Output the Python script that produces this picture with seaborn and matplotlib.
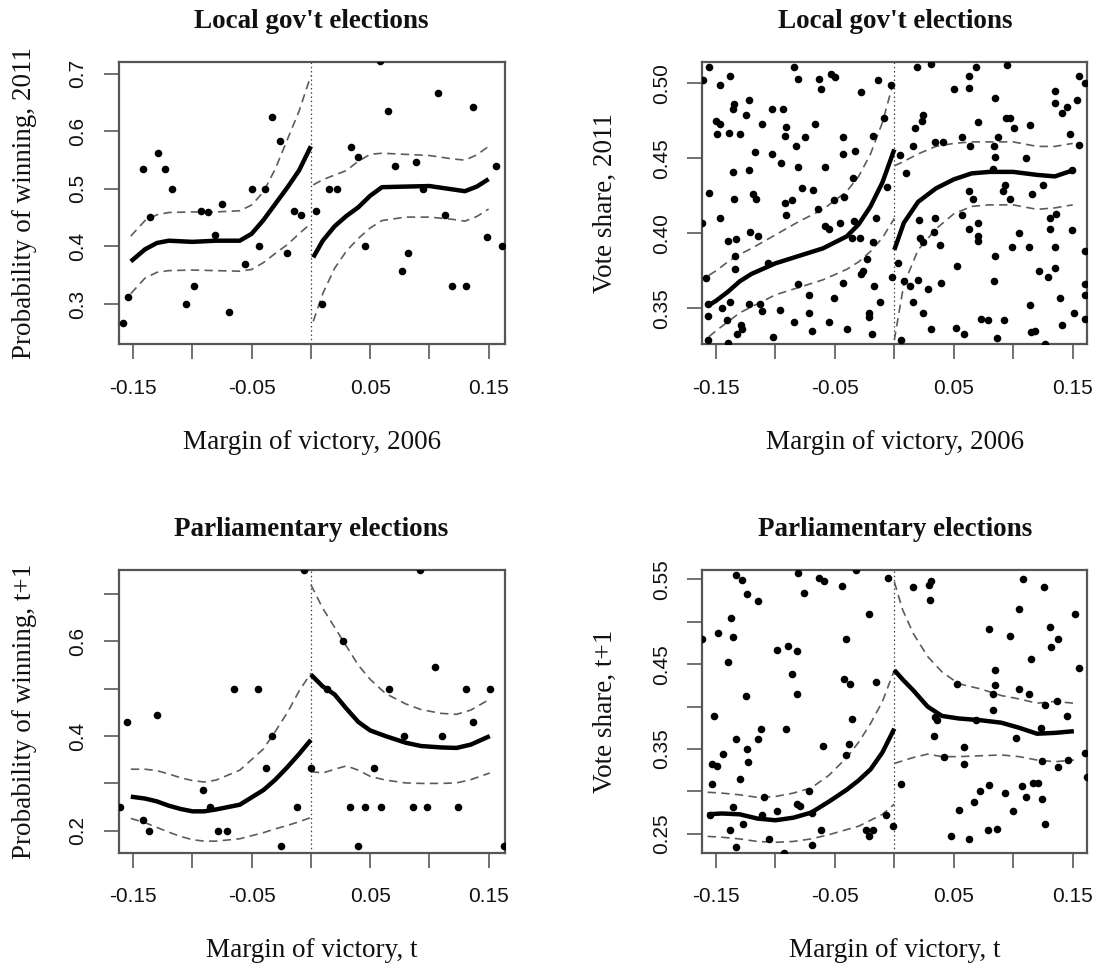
import matplotlib
matplotlib.use("Agg")
import matplotlib.pyplot as plt
import numpy as np
import pandas as pd
import seaborn as sns

sns.set_theme(style="white")
plt.rcParams['font.family'] = ['Liberation Serif', 'DejaVu Serif']
plt.rcParams['axes.unicode_minus'] = False

cutoff = 0.0

# ---------------- Panel 1: Local gov't elections, probability of winning ----------------
lg_prob_x = [-0.159, -0.154, -0.142, -0.136, -0.129, -0.123, -0.117, -0.105, -0.099, -0.093,
             -0.087, -0.081, -0.075, -0.069, -0.056, -0.050, -0.044, -0.039, -0.033, -0.026,
             -0.020, -0.014, -0.008, 0.004, 0.009, 0.015, 0.022, 0.034, 0.040, 0.046,
             0.058, 0.065, 0.071, 0.077, 0.082, 0.089, 0.095, 0.107, 0.113, 0.119,
             0.131, 0.137, 0.149, 0.156, 0.161]
lg_prob_y = [0.267, 0.313, 0.534, 0.451, 0.563, 0.534, 0.500, 0.300, 0.332, 0.462,
             0.459, 0.420, 0.473, 0.286, 0.369, 0.500, 0.400, 0.500, 0.625, 0.583,
             0.388, 0.462, 0.455, 0.462, 0.300, 0.500, 0.500, 0.572, 0.556, 0.400,
             0.722, 0.636, 0.539, 0.358, 0.388, 0.546, 0.500, 0.666, 0.455, 0.332,
             0.332, 0.643, 0.416, 0.539, 0.400]
lg_prob_left_x = [-0.152, -0.14, -0.13, -0.12, -0.1, -0.08, -0.06, -0.05, -0.04, -0.03, -0.02, -0.01, 0.0]
lg_prob_left_fit = [0.374, 0.395, 0.406, 0.410, 0.408, 0.410, 0.410, 0.422, 0.446, 0.474, 0.502, 0.532, 0.574]
lg_prob_left_hi = [0.418, 0.445, 0.455, 0.459, 0.460, 0.460, 0.462, 0.472, 0.495, 0.535, 0.585, 0.635, 0.697]
lg_prob_left_lo = [0.318, 0.345, 0.355, 0.358, 0.359, 0.358, 0.357, 0.360, 0.372, 0.388, 0.403, 0.422, 0.440]
lg_prob_right_x = [0.002, 0.01, 0.02, 0.03, 0.04, 0.05, 0.06, 0.08, 0.1, 0.12, 0.13, 0.14, 0.15]
lg_prob_right_fit = [0.381, 0.410, 0.435, 0.453, 0.468, 0.488, 0.503, 0.504, 0.505, 0.499, 0.496, 0.504, 0.517]
lg_prob_right_hi = [0.507, 0.516, 0.524, 0.532, 0.548, 0.560, 0.562, 0.560, 0.558, 0.552, 0.550, 0.559, 0.574]
lg_prob_right_lo = [0.270, 0.318, 0.362, 0.392, 0.414, 0.432, 0.445, 0.451, 0.451, 0.447, 0.444, 0.452, 0.465]

# ---------------- Panel 2: Local gov't elections, vote share ----------------
lg_share_left_x = [-0.156, -0.161, -0.147, -0.138, -0.084, -0.081, -0.063, -0.062, -0.053, -0.050,
                   -0.028, -0.122, -0.135, -0.136, -0.125, -0.103, -0.094, -0.150, -0.147, -0.149,
                   -0.139, -0.130, -0.111, -0.091, -0.092, -0.075, -0.067, -0.043, -0.018, -0.117,
                   -0.103, -0.083, -0.095, -0.081, -0.058, -0.043, -0.033, -0.035, -0.136, -0.122,
                   -0.156, -0.135, -0.119, -0.116, -0.078, -0.068, -0.086, -0.092, -0.091, -0.064,
                   -0.051, -0.042, -0.046, -0.058, -0.055, -0.034, -0.015, -0.162, -0.147, -0.121,
                   -0.115, -0.140, -0.133, -0.134, -0.134, -0.158, -0.106, -0.081, -0.072, -0.051,
                   -0.043, -0.036, -0.029, -0.023, -0.026, -0.028, -0.017, -0.157, -0.145, -0.138,
                   -0.157, -0.141, -0.122, -0.113, -0.111, -0.096, -0.072, -0.021, -0.021, -0.129,
                   -0.128, -0.132, -0.084, -0.055, -0.069, -0.040, -0.019, -0.157, -0.140, -0.102,
                   -0.018, -0.012, -0.014, -0.003, -0.009, -0.006]
lg_share_left_y = [0.511, 0.502, 0.499, 0.505, 0.511, 0.503, 0.503, 0.496, 0.506, 0.504,
                   0.494, 0.489, 0.486, 0.483, 0.479, 0.483, 0.483, 0.475, 0.473, 0.466,
                   0.467, 0.466, 0.473, 0.471, 0.465, 0.464, 0.473, 0.464, 0.465, 0.454,
                   0.453, 0.458, 0.447, 0.444, 0.444, 0.453, 0.455, 0.437, 0.441, 0.442,
                   0.427, 0.423, 0.426, 0.423, 0.430, 0.429, 0.422, 0.420, 0.412, 0.416,
                   0.422, 0.424, 0.407, 0.405, 0.403, 0.408, 0.410, 0.407, 0.410, 0.401,
                   0.398, 0.395, 0.396, 0.385, 0.376, 0.370, 0.380, 0.366, 0.359, 0.357,
                   0.367, 0.397, 0.397, 0.383, 0.375, 0.373, 0.365, 0.353, 0.350, 0.354,
                   0.345, 0.342, 0.353, 0.353, 0.348, 0.349, 0.347, 0.347, 0.344, 0.339,
                   0.336, 0.333, 0.341, 0.341, 0.335, 0.336, 0.333, 0.329, 0.327, 0.331,
                   0.394, 0.354, 0.502, 0.499, 0.477, 0.431]
lg_share_right_x = [0.019, 0.031, 0.069, 0.095, 0.063, 0.063, 0.050, 0.085, 0.135, 0.135,
                    0.141, 0.024, 0.023, 0.017, 0.070, 0.094, 0.097, 0.101, 0.114, 0.057,
                    0.064, 0.087, 0.084, 0.085, 0.041, 0.034, 0.016, 0.005, 0.010, 0.111,
                    0.083, 0.093, 0.091, 0.063, 0.066, 0.097, 0.116, 0.125, 0.057, 0.070,
                    0.063, 0.070, 0.070, 0.021, 0.034, 0.033, 0.022, 0.024, 0.038, 0.105,
                    0.099, 0.113, 0.131, 0.136, 0.131, 0.135, 0.085, 0.053, 0.003, -0.002,
                    0.008, 0.013, 0.020, 0.028, 0.039, 0.084, 0.122, 0.129, 0.135, 0.016,
                    0.024, 0.031, 0.052, 0.059, 0.073, 0.079, 0.092, 0.086, 0.114, 0.115,
                    0.118, 0.127, 0.139, 0.141, 0.006,
                    0.155, 0.160, 0.154, 0.145, 0.148, 0.155, 0.149, 0.149, 0.160, 0.160,
                    0.160, 0.151, 0.160]
lg_share_right_y = [0.511, 0.513, 0.511, 0.512, 0.505, 0.497, 0.496, 0.490, 0.495, 0.487,
                    0.480, 0.479, 0.475, 0.470, 0.474, 0.477, 0.477, 0.470, 0.472, 0.464,
                    0.458, 0.464, 0.458, 0.451, 0.461, 0.461, 0.458, 0.452, 0.440, 0.450,
                    0.443, 0.432, 0.428, 0.428, 0.423, 0.423, 0.426, 0.432, 0.412, 0.407,
                    0.403, 0.398, 0.395, 0.409, 0.410, 0.401, 0.397, 0.394, 0.392, 0.400,
                    0.391, 0.391, 0.410, 0.413, 0.403, 0.391, 0.385, 0.378, 0.380, 0.371,
                    0.368, 0.365, 0.369, 0.363, 0.367, 0.368, 0.375, 0.371, 0.377, 0.354,
                    0.347, 0.336, 0.337, 0.333, 0.343, 0.342, 0.342, 0.330, 0.352, 0.334,
                    0.335, 0.326, 0.357, 0.339, 0.329,
                    0.505, 0.500, 0.489, 0.484, 0.466, 0.459, 0.442, 0.402, 0.388, 0.366,
                    0.359, 0.347, 0.343]
lg_share_left_line_x = [-0.156, -0.15, -0.14, -0.13, -0.12, -0.1, -0.08, -0.06, -0.04, -0.03, -0.02, -0.01, 0.0]
lg_share_left_fit = [0.352, 0.355, 0.361, 0.368, 0.373, 0.380, 0.385, 0.390, 0.398, 0.406, 0.418, 0.434, 0.456]
lg_share_left_hi = [0.372, 0.375, 0.381, 0.386, 0.390, 0.399, 0.408, 0.416, 0.428, 0.438, 0.453, 0.474, 0.503]
lg_share_left_lo = [0.331, 0.335, 0.341, 0.347, 0.351, 0.359, 0.364, 0.369, 0.376, 0.381, 0.388, 0.397, 0.410]
lg_share_right_line_x = [0.0, 0.008, 0.02, 0.035, 0.05, 0.065, 0.08, 0.1, 0.12, 0.135, 0.15]
lg_share_right_fit = [0.389, 0.407, 0.421, 0.430, 0.436, 0.440, 0.441, 0.441, 0.439, 0.438, 0.442]
lg_share_right_hi = [0.445, 0.448, 0.453, 0.458, 0.460, 0.461, 0.461, 0.461, 0.458, 0.458, 0.460]
lg_share_right_lo = [0.329, 0.366, 0.389, 0.403, 0.413, 0.418, 0.419, 0.419, 0.416, 0.417, 0.419]

# ---------------- Panel 3: Parliamentary elections, probability of winning ----------------
parl_prob_x = [-0.161, -0.155, -0.142, -0.137, -0.130, -0.091, -0.085, -0.078, -0.071, -0.065,
               -0.045, -0.038, -0.033, -0.025, -0.012, -0.006, 0.000, 0.014, 0.027, 0.033,
               0.040, 0.046, 0.053, 0.059, 0.066, 0.079, 0.086, 0.092, 0.098, 0.105,
               0.111, 0.124, 0.131, 0.137, 0.151, 0.163]
parl_prob_y = [0.250, 0.429, 0.222, 0.200, 0.444, 0.286, 0.250, 0.200, 0.200, 0.500,
               0.500, 0.333, 0.400, 0.167, 0.250, 0.750, 0.333, 0.500, 0.600, 0.250,
               0.167, 0.250, 0.333, 0.250, 0.500, 0.400, 0.250, 0.750, 0.250, 0.545,
               0.400, 0.250, 0.500, 0.429, 0.500, 0.167]
parl_prob_left_x = [-0.152, -0.14, -0.13, -0.12, -0.11, -0.1, -0.09, -0.08, -0.06, -0.04, -0.03, -0.02, -0.01, 0.0]
parl_prob_left_fit = [0.272, 0.268, 0.262, 0.253, 0.246, 0.241, 0.241, 0.245, 0.255, 0.286, 0.308, 0.334, 0.362, 0.392]
parl_prob_left_hi = [0.330, 0.330, 0.327, 0.320, 0.312, 0.306, 0.303, 0.307, 0.328, 0.373, 0.410, 0.449, 0.495, 0.533]
parl_prob_left_lo = [0.226, 0.217, 0.207, 0.197, 0.188, 0.181, 0.178, 0.178, 0.183, 0.196, 0.204, 0.211, 0.219, 0.228]
parl_prob_right_x = [0.0, 0.01, 0.02, 0.03, 0.04, 0.05, 0.063, 0.08, 0.093, 0.11, 0.123, 0.135, 0.151]
parl_prob_right_fit = [0.530, 0.505, 0.488, 0.458, 0.430, 0.412, 0.400, 0.386, 0.379, 0.376, 0.375, 0.382, 0.400]
parl_prob_right_hi = [0.720, 0.670, 0.630, 0.590, 0.550, 0.520, 0.490, 0.468, 0.456, 0.448, 0.446, 0.455, 0.478]
parl_prob_right_lo = [0.325, 0.322, 0.330, 0.337, 0.328, 0.315, 0.307, 0.301, 0.300, 0.300, 0.301, 0.308, 0.322]

# ---------------- Panel 4: Parliamentary elections, vote share ----------------
parl_share_x = [-0.162, -0.148, -0.137, -0.136, -0.140, -0.133, -0.128, -0.124, -0.115, -0.125,
                -0.152, -0.133, -0.124, -0.112, -0.115, -0.144, -0.153, -0.149, -0.123, -0.130,
                -0.153, -0.110, -0.136, -0.155, -0.127, -0.138, -0.133, -0.111, -0.099, -0.105,
                -0.099, -0.089, -0.082, -0.086, -0.082, -0.091, -0.082, -0.079, -0.072, -0.069,
                -0.069, -0.076, -0.081, -0.063, -0.059, -0.044, -0.041, -0.042, -0.037, -0.036,
                -0.038, -0.041, -0.060, -0.062, -0.021, -0.015, -0.005, -0.024, -0.021, -0.018,
                -0.007, -0.001, 0.006, 0.016, 0.029, 0.031, 0.030, 0.034, 0.036, 0.033,
                0.042, 0.048, 0.054, 0.053, 0.059, 0.059, 0.063, 0.067, 0.072, 0.080,
                0.079, 0.086, 0.080, 0.085, 0.085, 0.083, 0.083, 0.093, 0.097, 0.100,
                0.102, 0.105, 0.105, 0.107, 0.111, 0.113, 0.115, 0.108, 0.126, 0.117,
                0.121, 0.123, 0.124, 0.124, 0.127, 0.127, 0.131, 0.132, 0.138, 0.137,
                0.138, 0.145, 0.146, 0.152, 0.155, 0.160, 0.162, 0.069, -0.032, -0.093]
parl_share_y = [0.480, 0.487, 0.504, 0.482, 0.452, 0.555, 0.549, 0.533, 0.524, 0.413,
                0.389, 0.362, 0.350, 0.374, 0.362, 0.344, 0.332, 0.330, 0.335, 0.315,
                0.309, 0.293, 0.282, 0.272, 0.262, 0.254, 0.235, 0.272, 0.277, 0.244,
                0.467, 0.472, 0.465, 0.438, 0.415, 0.373, 0.285, 0.283, 0.301, 0.274,
                0.237, 0.534, 0.558, 0.552, 0.548, 0.542, 0.480, 0.433, 0.427, 0.385,
                0.356, 0.343, 0.353, 0.255, 0.509, 0.429, 0.552, 0.254, 0.248, 0.255,
                0.272, 0.259, 0.309, 0.541, 0.543, 0.548, 0.526, 0.388, 0.384, 0.365,
                0.341, 0.248, 0.278, 0.427, 0.352, 0.332, 0.244, 0.287, 0.301, 0.307,
                0.254, 0.256, 0.491, 0.443, 0.426, 0.415, 0.396, 0.298, 0.483, 0.277,
                0.363, 0.515, 0.421, 0.306, 0.293, 0.415, 0.456, 0.550, 0.541, 0.310,
                0.310, 0.375, 0.336, 0.291, 0.262, 0.402, 0.494, 0.470, 0.480, 0.407,
                0.329, 0.389, 0.337, 0.509, 0.445, 0.345, 0.317, 0.384, 0.561, 0.228]
parl_share_left_x = [-0.157, -0.145, -0.13, -0.115, -0.1, -0.085, -0.07, -0.055, -0.04, -0.03, -0.02, -0.01, 0.0]
parl_share_left_fit = [0.273, 0.274, 0.273, 0.268, 0.266, 0.269, 0.275, 0.288, 0.302, 0.313, 0.326, 0.346, 0.374]
parl_share_left_hi = [0.299, 0.298, 0.296, 0.293, 0.294, 0.298, 0.304, 0.319, 0.340, 0.358, 0.380, 0.406, 0.443]
parl_share_left_lo = [0.247, 0.246, 0.244, 0.241, 0.240, 0.241, 0.244, 0.249, 0.255, 0.259, 0.266, 0.273, 0.285]
parl_share_right_x = [0.0, 0.007, 0.016, 0.028, 0.04, 0.054, 0.072, 0.09, 0.105, 0.12, 0.135, 0.151]
parl_share_right_fit = [0.443, 0.432, 0.419, 0.400, 0.389, 0.386, 0.384, 0.381, 0.375, 0.368, 0.369, 0.371]
parl_share_right_hi = [0.547, 0.514, 0.486, 0.459, 0.441, 0.427, 0.421, 0.413, 0.409, 0.404, 0.406, 0.404]
parl_share_right_lo = [0.333, 0.336, 0.340, 0.344, 0.341, 0.341, 0.342, 0.343, 0.341, 0.337, 0.335, 0.337]

# ---------------- Axis text ----------------
titles = ["Local gov't elections", "Local gov't elections",
          "Parliamentary elections", "Parliamentary elections"]
xlabels = ["Margin of victory, 2006", "Margin of victory, 2006",
           "Margin of victory, t", "Margin of victory, t"]
ylabels = ["Probability of winning, 2011", "Vote share, 2011",
           "Probability of winning, t+1", "Vote share, t+1"]
x_ticks = [-0.15, -0.10, -0.05, 0.0, 0.05, 0.10, 0.15]
x_ticklabels = ["-0.15", "", "-0.05", "", "0.05", "", "0.15"]
y_ticks_1 = [0.3, 0.4, 0.5, 0.6, 0.7]
y_ticklabels_1 = ["0.3", "0.4", "0.5", "0.6", "0.7"]
y_ticks_2 = [0.35, 0.40, 0.45, 0.50]
y_ticklabels_2 = ["0.35", "0.40", "0.45", "0.50"]
y_ticks_3 = [0.2, 0.3, 0.4, 0.5, 0.6, 0.7]
y_ticklabels_3 = ["0.2", "", "0.4", "", "0.6", ""]
y_ticks_4 = [0.25, 0.30, 0.35, 0.40, 0.45, 0.50, 0.55]
y_ticklabels_4 = ["0.25", "", "0.35", "", "0.45", "", "0.55"]

# ---------------- Figure ----------------
W, H = 1103, 968
fig = plt.figure(figsize=(W / 100, H / 100), dpi=100)
fig.patch.set_facecolor('white')


def px_axes(left, right, top, bottom):
    return fig.add_axes([left / W, 1 - bottom / H, (right - left) / W, (bottom - top) / H])


BOX = '#555555'
DASH = '#5c5c5c'
SANS = ['Liberation Sans', 'DejaVu Sans']


def draw_panel(ax, px, py, lx, lfit, lhi, llo, rx, rfit, rhi, rlo, xlim, ylim,
               yticks, yticklabels, title, xlabel, ylabel, box_px, ylab_off):
    axw = box_px[1] - box_px[0]
    axh = box_px[3] - box_px[2]
    ax.set_facecolor('white')
    ax.axvline(cutoff, color='#444444', lw=0.9, linestyle=(0, (1.2, 2.2)), zorder=1)
    pts = pd.DataFrame({'x': px, 'y': py})
    sns.scatterplot(data=pts, x='x', y='y', color='black', s=30, linewidth=0,
                    ax=ax, zorder=3, legend=False)
    for xs, fit, hi, lo in ((lx, lfit, lhi, llo), (rx, rfit, rhi, rlo)):
        for ys in (hi, lo):
            sns.lineplot(x=xs, y=ys, ax=ax, color=DASH, lw=1.2, estimator=None,
                         sort=False, linestyle=(0, (5.0, 3.2)), zorder=2)
        sns.lineplot(x=xs, y=fit, ax=ax, color='black', lw=3.2, estimator=None,
                     sort=False, zorder=4, solid_capstyle='butt', solid_joinstyle='round')
    ax.set_xlim(*xlim)
    ax.set_ylim(*ylim)
    ax.set_xticks(x_ticks)
    ax.set_xticklabels(x_ticklabels)
    ax.set_yticks(yticks)
    ax.set_yticklabels(yticklabels)
    for s in ax.spines.values():
        s.set_visible(True)
        s.set_color(BOX)
        s.set_linewidth(1.6)
    ax.tick_params(axis='both', direction='out', length=10.8, width=1.3, color='#666666',
                   labelsize=15, labelcolor='#111111')
    ax.tick_params(axis='x', pad=14, bottom=True)
    ax.tick_params(axis='y', pad=12, left=True, labelrotation=90)
    for lab in ax.get_xticklabels():
        lab.set_fontfamily(SANS)
    for lab in ax.get_yticklabels():
        lab.set_fontfamily(SANS)
        lab.set_va('center')
    ax.set_title(title, fontsize=19.5, fontweight='bold', y=1 + 40 / axh, va='center',
                 pad=0, color='#111111')
    ax.set_xlabel(xlabel, fontsize=19.5, color='#111111')
    ax.xaxis.set_label_coords(0.5, -98 / axh)
    ax.xaxis.label.set_va('center')
    ax.set_ylabel(ylabel, fontsize=19.5, color='#111111')
    ax.yaxis.set_label_coords(-ylab_off / axw, 0.5)
    ax.yaxis.label.set_va('center')
    ax.grid(False)


boxes = [(118.6, 504.6, 61.7, 344.3), (702.4, 1087.2, 61.7, 344.3),
         (118.6, 504.6, 570.0, 852.5), (702.4, 1087.2, 570.0, 852.5)]
axes = [px_axes(*b) for b in boxes]

draw_panel(axes[0], lg_prob_x, lg_prob_y,
           lg_prob_left_x, lg_prob_left_fit, lg_prob_left_hi, lg_prob_left_lo,
           lg_prob_right_x, lg_prob_right_fit, lg_prob_right_hi, lg_prob_right_lo,
           (-0.1623, 0.1635), (0.230, 0.721), y_ticks_1, y_ticklabels_1,
           titles[0], xlabels[0], ylabels[0], boxes[0], 93.6)

draw_panel(axes[1], lg_share_left_x + lg_share_right_x, lg_share_left_y + lg_share_right_y,
           lg_share_left_line_x, lg_share_left_fit, lg_share_left_hi, lg_share_left_lo,
           lg_share_right_line_x, lg_share_right_fit, lg_share_right_hi, lg_share_right_lo,
           (-0.1614, 0.1622), (0.326, 0.5145), y_ticks_2, y_ticklabels_2,
           titles[1], xlabels[1], ylabels[1], boxes[1], 97.4)

draw_panel(axes[2], parl_prob_x, parl_prob_y,
           parl_prob_left_x, parl_prob_left_fit, parl_prob_left_hi, parl_prob_left_lo,
           parl_prob_right_x, parl_prob_right_fit, parl_prob_right_hi, parl_prob_right_lo,
           (-0.1623, 0.1635), (0.154, 0.751), y_ticks_3, y_ticklabels_3,
           titles[2], xlabels[2], ylabels[2], boxes[2], 94.0)

draw_panel(axes[3], parl_share_x, parl_share_y,
           parl_share_left_x, parl_share_left_fit, parl_share_left_hi, parl_share_left_lo,
           parl_share_right_x, parl_share_right_fit, parl_share_right_hi, parl_share_right_lo,
           (-0.1614, 0.1622), (0.228, 0.561), y_ticks_4, y_ticklabels_4,
           titles[3], xlabels[3], ylabels[3], boxes[3], 97.0)

fig.savefig("out.png", dpi=100, facecolor='white')
